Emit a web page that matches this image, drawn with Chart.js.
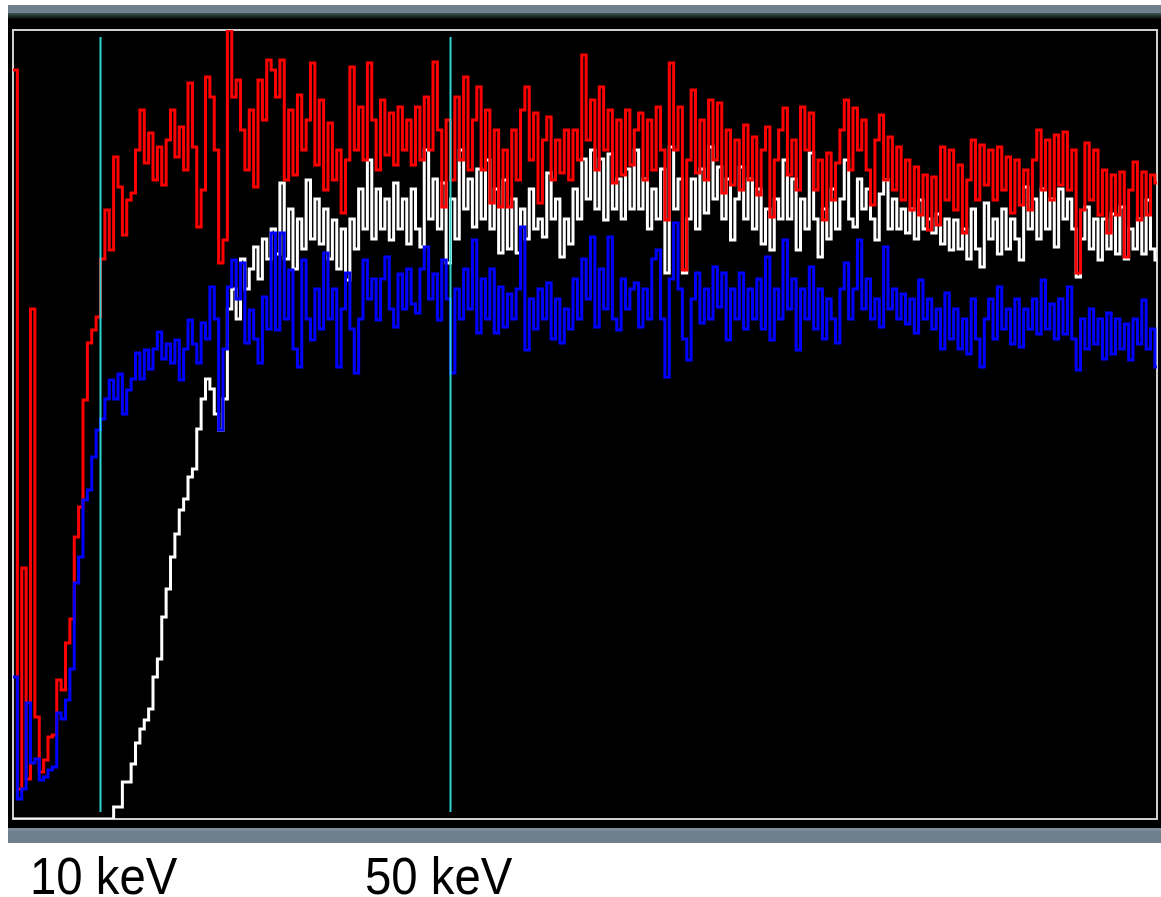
<!DOCTYPE html>
<html>
<head>
<meta charset="utf-8">
<script src="https://cdn.jsdelivr.net/npm/chart.js@4.4.1/dist/chart.umd.min.js"></script>
<style>
  html, body { margin: 0; padding: 0; background: #ffffff; }
  #wrap { position: relative; width: 1161px; height: 897px; overflow: hidden; }
  #spectrum { position: absolute; left: 0; top: 0; }
  .lbl {
    position: absolute;
    font-family: "Liberation Sans", Arial, sans-serif;
    font-size: 52px;
    line-height: 52px;
    color: #000;
    white-space: nowrap;
    transform: scaleX(0.91);
    transform-origin: left top;
  }
</style>
</head>
<body>
<div id="wrap">
  <canvas id="spectrum" width="1161" height="897"></canvas>
  <div class="lbl" style="left:30px; top:850px;">10 keV</div>
  <div class="lbl" style="left:365px; top:850px;">50 keV</div>
</div>
<script>
// energy bins: 0.5 keV wide, starting at 0 keV
const binWidth = 0.5
const energyMax = 130.74

// counts per bin
const redCounts = [
  749, 30, 251, 40, 510, 102, 47, 59, 82, 84,
  139, 129, 176, 200, 282, 312, 419, 476, 489, 502,
  560, 609, 569, 662, 632, 584, 619, 626, 669, 709,
  656, 686, 639, 672, 634, 679, 709, 662, 692, 649,
  736, 672, 592, 629, 742, 722, 669, 556, 579, 789,
  722, 739, 689, 649, 709, 632, 739, 699, 759, 749,
  722, 759, 639, 709, 644, 724, 669, 699, 756, 654,
  719, 629, 696, 639, 669, 606, 659, 752, 669, 712,
  659, 756, 699, 649, 719, 664, 706, 654, 712, 669,
  699, 654, 712, 659, 722, 669, 757, 689, 612, 699,
  639, 722, 659, 742, 649, 699, 732, 649, 709, 616,
  689, 612, 669, 612, 689, 639, 709, 732, 659, 706,
  616, 679, 702, 639, 679, 646, 689, 639, 689, 659,
  764, 679, 719, 649, 732, 669, 709, 636, 699, 644,
  709, 654, 689, 706, 639, 699, 649, 712, 669, 599,
  756, 669, 712, 549, 659, 729, 646, 699, 639, 719,
  659, 716, 626, 689, 634, 679, 629, 694, 639, 682,
  624, 669, 692, 602, 659, 689, 711, 644, 679, 629,
  712, 669, 706, 629, 659, 599, 666, 619, 656, 689,
  719, 649, 711, 669, 699, 649, 614, 679, 704, 639,
  682, 629, 672, 619, 659, 609, 652, 604, 644, 589,
  642, 594, 672, 619, 669, 609, 654, 586, 639, 679,
  619, 674, 634, 669, 619, 672, 629, 662, 606, 659,
  614, 649, 609, 659, 689, 629, 679, 619, 684, 634,
  687, 629, 669, 546, 609, 676, 619, 669, 604, 649,
  586, 644, 604, 647, 562, 629, 657, 599, 647, 604,
  644, 636
]

const whiteCounts = [
  0, 0, 0, 0, 0, 0, 0, 0, 0, 0,
  0, 0, 0, 0, 0, 0, 0, 0, 0, 0,
  0, 0, 0, 12, 12, 37, 37, 55, 76, 90,
  99, 110, 142, 160, 202, 230, 262, 285, 309, 320,
  342, 350, 390, 420, 440, 430, 405, 389, 420, 510,
  530, 500, 560, 530, 550, 572, 540, 580, 560, 590,
  565, 636, 560, 610, 550, 600, 570, 639, 580, 620,
  575, 610, 560, 599, 550, 590, 539, 600, 570, 630,
  590, 659, 580, 630, 590, 620, 579, 636, 590, 620,
  575, 630, 590, 572, 669, 600, 640, 590, 636, 556,
  620, 580, 669, 610, 640, 592, 650, 600, 659, 590,
  630, 566, 639, 570, 620, 566, 610, 580, 630, 590,
  600, 582, 646, 600, 620, 562, 600, 575, 630, 600,
  660, 620, 669, 610, 660, 599, 665, 610, 640, 600,
  650, 610, 669, 610, 640, 590, 630, 600, 650, 546,
  672, 610, 640, 546, 600, 640, 590, 650, 606, 672,
  620, 652, 600, 640, 579, 620, 652, 600, 640, 590,
  630, 575, 610, 569, 620, 600, 659, 600, 640, 569,
  620, 590, 666, 600, 562, 610, 580, 630, 590, 620,
  659, 600, 592, 640, 610, 630, 600, 579, 625, 639,
  590, 620, 590, 610, 586, 610, 580, 619, 590, 600,
  586, 605, 575, 600, 569, 599, 570, 590, 560, 610,
  570, 552, 616, 580, 600, 565, 610, 570, 600, 580,
  559, 632, 590, 620, 580, 630, 590, 620, 572, 630,
  600, 620, 590, 542, 580, 612, 570, 600, 559, 600,
  570, 605, 565, 612, 560, 590, 570, 600, 565, 619,
  570, 559
]

const blueCounts = [
  142, 20, 30, 116, 56, 60, 39, 42, 49, 52,
  106, 100, 119, 150, 236, 262, 319, 329, 362, 389,
  400, 420, 439, 420, 445, 405, 429, 440, 466, 440,
  469, 450, 470, 487, 460, 475, 456, 479, 439, 470,
  499, 475, 456, 496, 480, 532, 500, 389, 470, 532,
  559, 520, 556, 476, 509, 480, 456, 522, 490, 586,
  489, 586, 500, 549, 470, 452, 559, 500, 479, 530,
  490, 566, 500, 530, 452, 510, 546, 490, 446, 500,
  559, 520, 540, 499, 540, 562, 510, 492, 545, 510,
  550, 515, 506, 550, 572, 520, 545, 499, 559, 520,
  446, 530, 500, 550, 510, 579, 486, 540, 500, 550,
  486, 532, 492, 525, 500, 530, 592, 469, 520, 490,
  530, 500, 536, 480, 520, 476, 510, 490, 540, 500,
  560, 520, 582, 492, 550, 510, 582, 500, 489, 540,
  510, 530, 536, 492, 530, 500, 560, 569, 500, 442,
  540, 596, 530, 480, 459, 520, 546, 496, 530, 500,
  552, 512, 546, 479, 530, 500, 546, 490, 530, 500,
  540, 490, 562, 479, 530, 500, 579, 510, 540, 469,
  530, 500, 552, 490, 530, 480, 520, 500, 476, 530,
  556, 500, 530, 579, 510, 540, 500, 520, 492, 572,
  510, 530, 500, 525, 495, 520, 486, 539, 500, 520,
  490, 510, 470, 526, 480, 510, 470, 500, 465, 520,
  480, 452, 500, 520, 480, 532, 490, 510, 475, 520,
  472, 510, 490, 520, 485, 539, 490, 515, 480, 520,
  485, 532, 480, 449, 500, 470, 510, 475, 500, 460,
  506, 465, 500, 470, 495, 459, 500, 475, 519, 470,
  490, 452
]

// cyan marker lines
const markerEnergies = [10, 50]
const markerLow = 7
const markerHigh = 782

//? histogram -> step points (left edge of every bin, plus closing edge)
function toSteps(vals) {
    const pts = vals.map((v, i) => ({ x: i * binWidth, y: v }))
    pts.push({ x: vals.length * binWidth, y: vals[vals.length - 1] })
    return pts
}

function markerLine(e) {
    return {
        type: 'line',
        data: [{ x: e, y: markerLow }, { x: e, y: markerHigh }],
        borderColor: '#2fd3d3',
        borderWidth: 2,
        pointRadius: 0,
        order: 0
    }
}

const spectrumDataset = (vals, color, order) => ({
    type: 'line',
    data: toSteps(vals),
    borderColor: color,
    borderWidth: 3,
    pointRadius: 0,
    stepped: 'before',
    fill: false,
    order: order
})

//? panel behind the plot: black box, grey bars and the light frame
const panel = {
    id: 'panel',
    beforeDraw(chart) {
        const ctx = chart.ctx
        ctx.save()
        ctx.fillStyle = '#000000'
        ctx.fillRect(8, 5, 1153, 823)
        ctx.fillStyle = '#6f7f8e'
        ctx.fillRect(8, 5, 1153, 8)
        const g = ctx.createLinearGradient(0, 13, 0, 19)
        g.addColorStop(0, '#3c5753')
        g.addColorStop(1, '#050a0a')
        ctx.fillStyle = g
        ctx.fillRect(8, 13, 1153, 6)
        ctx.fillStyle = '#7d8c9b'
        ctx.fillRect(8, 828, 1153, 3)
        ctx.fillStyle = '#6f7f8e'
        ctx.fillRect(8, 831, 1153, 12)
        ctx.restore()
    },
    beforeDatasetsDraw(chart) {
        const ctx = chart.ctx
        const a = chart.chartArea
        ctx.save()
        ctx.strokeStyle = '#cfcfcf'
        ctx.lineWidth = 2
        ctx.strokeRect(a.left, a.top, a.right - a.left, a.bottom - a.top)
        ctx.restore()
    }
}

const canvas = document.getElementById('spectrum')

const grafSpectrum = new Chart(canvas, {
    type: 'line',
    data: {
        datasets: [
            markerLine(markerEnergies[0]),
            markerLine(markerEnergies[1]),
            spectrumDataset(blueCounts, '#0000ff', 1),
            spectrumDataset(redCounts, '#ff0000', 2),
            spectrumDataset(whiteCounts, '#ffffff', 3)
        ]
    },
    options: {
        responsive: false,
        animation: false,
        devicePixelRatio: 1,
        layout: { padding: { left: 13, top: 30, right: 4, bottom: 78 } },
        plugins: { legend: { display: false }, tooltip: { enabled: false } },
        scales: {
            x: { type: 'linear', min: 0, max: energyMax, display: false },
            y: { min: 0, max: 789, display: false }
        }
    },
    plugins: [panel]
})
</script>
</body>
</html>
